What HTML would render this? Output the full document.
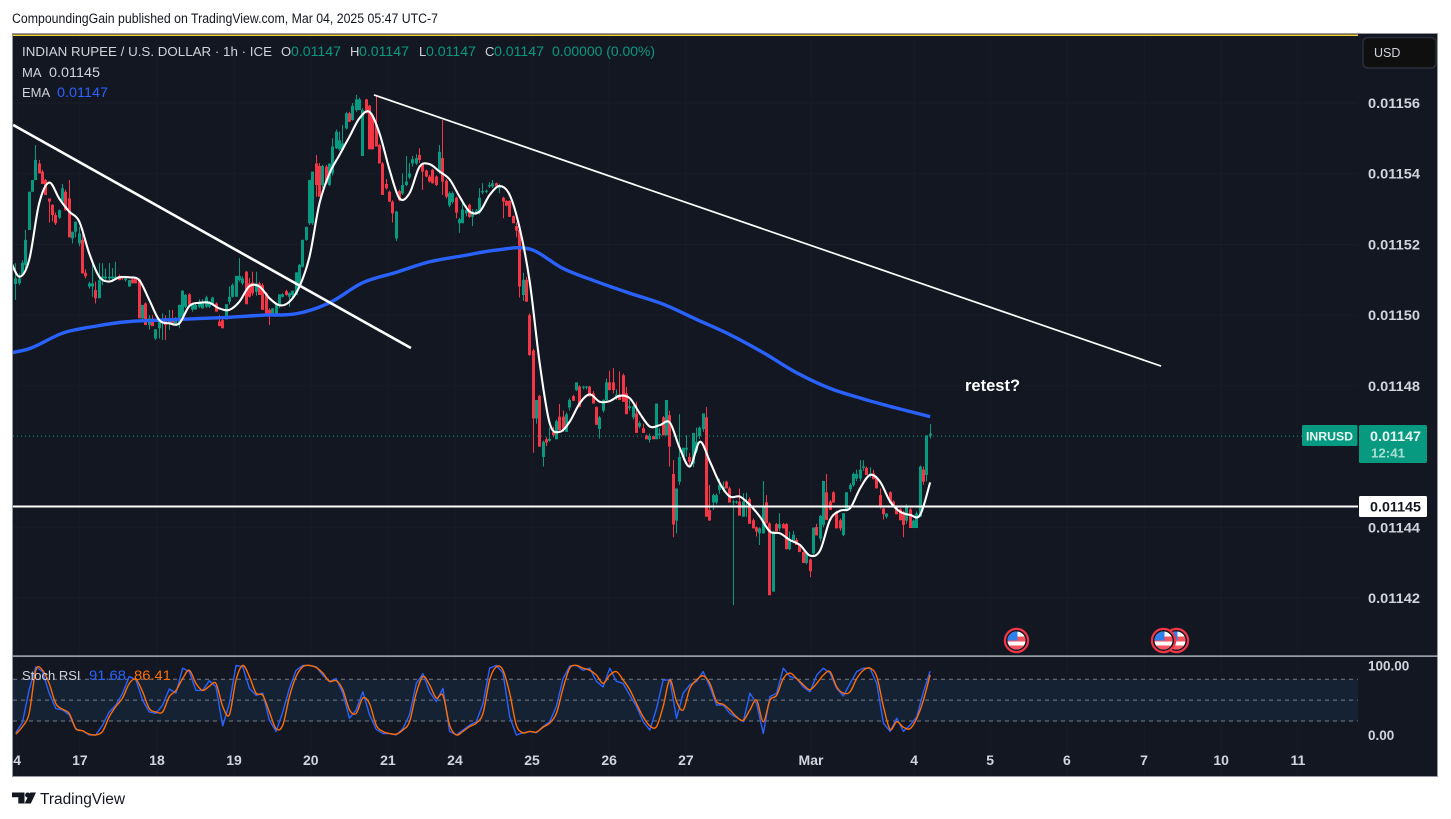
<!DOCTYPE html>
<html lang="en">
<head>
<meta charset="utf-8">
<title>INRUSD chart</title>
<style>
html,body{margin:0;padding:0;background:#fff;width:1451px;height:819px;overflow:hidden}
svg{display:block;font-family:"Liberation Sans",sans-serif}
</style>
</head>
<body>
<svg id="chart" xmlns="http://www.w3.org/2000/svg" width="1451" height="819" viewBox="0 0 1451 819">
  <defs>
    <clipPath id="main-clip"><rect x="13" y="36" width="1345" height="620"/></clipPath>
    <clipPath id="pane-clip"><rect x="13" y="657" width="1345" height="119"/></clipPath>
    <clipPath id="flag-clip"><circle cx="0" cy="0" r="9"/></clipPath>
  </defs>
  <rect x="0" y="0" width="1451" height="819" fill="#ffffff"/>
  <text x="12" y="23" font-size="13.5" fill="#131722" textLength="426" lengthAdjust="spacingAndGlyphs">CompoundingGain published on TradingView.com, Mar 04, 2025 05:47 UTC-7</text>
  <rect x="12.5" y="33.5" width="1425" height="743" fill="#131722" stroke="#9598a1" stroke-width="1"/>
  <rect x="13" y="34.5" width="1345" height="1.5" fill="#f5d63d"/>
  <g id="grid"></g>
  <g id="candles" clip-path="url(#main-clip)"></g>
  <line id="last-price-line" x1="13" x2="1302" stroke="#089981" stroke-width="1" stroke-dasharray="1 3"/>
  <path id="ema-line" clip-path="url(#main-clip)" fill="none" stroke="#2962ff" stroke-width="3.4" stroke-linejoin="round"/>
  <path id="ma-line" clip-path="url(#main-clip)" fill="none" stroke="#ffffff" stroke-width="2.1" stroke-linejoin="round"/>
  <line id="trend-a" clip-path="url(#main-clip)" stroke="#ffffff" stroke-width="2.6"/>
  <line id="trend-b" clip-path="url(#main-clip)" stroke="#ffffff" stroke-width="1.7"/>
  <line id="support-line" x1="13" x2="1358" stroke="#ffffff" stroke-width="2"/>
  <text x="965" y="391" font-size="16.5" font-weight="700" fill="#ffffff">retest?</text>

  <g transform="translate(1176.5 640.5)">
    <circle r="11.6" fill="#131722" stroke="#f23645" stroke-width="2.2"/>
    <g clip-path="url(#flag-clip)"><rect x="-9" y="-9" width="18" height="18" fill="#fff"/><rect x="-9" y="-4" width="18" height="5" fill="#f7525f"/><rect x="-9" y="5" width="18" height="4" fill="#f7525f"/><rect x="-9" y="-9" width="10" height="9" fill="#2f80ed"/></g>
  </g>
  <g transform="translate(1163.5 640.5)">
    <circle r="11.6" fill="#131722" stroke="#f23645" stroke-width="2.2"/>
    <g clip-path="url(#flag-clip)"><rect x="-9" y="-9" width="18" height="18" fill="#fff"/><rect x="-9" y="-4" width="18" height="5" fill="#f7525f"/><rect x="-9" y="5" width="18" height="4" fill="#f7525f"/><rect x="-9" y="-9" width="10" height="9" fill="#2f80ed"/></g>
  </g>
  <g transform="translate(1016.5 640.5)">
    <circle r="11.6" fill="#131722" stroke="#f23645" stroke-width="2.2"/>
    <g clip-path="url(#flag-clip)"><rect x="-9" y="-9" width="18" height="18" fill="#fff"/><rect x="-9" y="-4" width="18" height="5" fill="#f7525f"/><rect x="-9" y="5" width="18" height="4" fill="#f7525f"/><rect x="-9" y="-9" width="10" height="9" fill="#2f80ed"/></g>
  </g>

  <rect x="13" y="655.5" width="1425" height="1.2" fill="#d1d4dc"/>
  <rect x="13" y="679.3" width="1345" height="41.7" fill="#152233"/>
  <g id="stoch-guides"></g>
  <path id="stoch-k" clip-path="url(#pane-clip)" fill="none" stroke="#2962ff" stroke-width="1.4" stroke-linejoin="round"/>
  <path id="stoch-d" clip-path="url(#pane-clip)" fill="none" stroke="#ff6d00" stroke-width="1.4" stroke-linejoin="round"/>

  <g id="legend" font-size="13">
    <text x="22" y="56" fill="#d1d4dc" textLength="250" lengthAdjust="spacingAndGlyphs">INDIAN RUPEE / U.S. DOLLAR · 1h · ICE</text>
    <text x="281" y="56" fill="#d1d4dc">O</text>
    <text x="291" y="56" fill="#089981" font-size="14" textLength="50" lengthAdjust="spacingAndGlyphs">0.01147</text>
    <text x="350" y="56" fill="#d1d4dc">H</text>
    <text x="359" y="56" fill="#089981" font-size="14" textLength="50" lengthAdjust="spacingAndGlyphs">0.01147</text>
    <text x="419" y="56" fill="#d1d4dc">L</text>
    <text x="426" y="56" fill="#089981" font-size="14" textLength="50" lengthAdjust="spacingAndGlyphs">0.01147</text>
    <text x="485" y="56" fill="#d1d4dc">C</text>
    <text x="494" y="56" fill="#089981" font-size="14" textLength="50" lengthAdjust="spacingAndGlyphs">0.01147</text>
    <text x="552" y="56" fill="#089981" font-size="14" textLength="103" lengthAdjust="spacingAndGlyphs">0.00000 (0.00%)</text>
    <text x="22" y="77" fill="#d1d4dc">MA</text>
    <text x="49" y="77" fill="#d1d4dc" font-size="14" textLength="51" lengthAdjust="spacingAndGlyphs">0.01145</text>
    <text x="22" y="97" fill="#d1d4dc">EMA</text>
    <text x="57" y="97" fill="#2962ff" font-size="14" textLength="51" lengthAdjust="spacingAndGlyphs">0.01147</text>
    <text x="22" y="680" fill="#d1d4dc">Stoch RSI</text>
    <text x="89" y="680" fill="#2962ff" font-size="14" textLength="37" lengthAdjust="spacingAndGlyphs">91.68</text>
    <text x="134" y="680" fill="#ff6d00" font-size="14" textLength="37" lengthAdjust="spacingAndGlyphs">86.41</text>
  </g>

  <g id="price-axis" font-size="13.5" font-weight="700" fill="#d1d4dc"></g>
  <g id="time-axis" font-size="14" font-weight="700" fill="#d1d4dc" text-anchor="middle"></g>

  <g>
    <rect x="1363" y="37.5" width="73" height="30.5" rx="5" fill="#0f0f10" stroke="#2a2e39" stroke-width="1.5"/>
    <text x="1374" y="57" font-size="12.5" fill="#d1d4dc">USD</text>
  </g>

  <g>
    <rect x="1302" y="425" width="55.5" height="21" rx="1.5" fill="#089981"/>
    <text x="1306" y="440.5" font-size="12" font-weight="700" fill="#e8f6f2" textLength="47" lengthAdjust="spacingAndGlyphs">INRUSD</text>
  </g>
  <g>
    <rect x="1359" y="425" width="68" height="38" rx="1.5" fill="#089981"/>
    <text x="1370" y="441" font-size="13.5" font-weight="700" fill="#e8f6f2" textLength="51" lengthAdjust="spacingAndGlyphs">0.01147</text>
    <text x="1371" y="457.5" font-size="13" font-weight="700" fill="#a9dfd2" textLength="34" lengthAdjust="spacingAndGlyphs">12:41</text>
  </g>
  <g>
    <rect x="1359" y="496" width="68" height="21" rx="1.5" fill="#ffffff"/>
    <text x="1370" y="511.5" font-size="13.5" font-weight="700" fill="#131722" textLength="51" lengthAdjust="spacingAndGlyphs">0.01145</text>
  </g>

  <g>
    <path d="M12 792.5h12.5v11h-6.2v-6.2H12z" fill="#131722"/>
    <circle cx="27.6" cy="795" r="2.5" fill="#131722"/>
    <path d="M30 792.5h6l-5.2 11h-6.2z" fill="#131722"/>
    <text x="40" y="804" font-size="15.5" fill="#131722" textLength="85" lengthAdjust="spacingAndGlyphs">TradingView</text>
  </g>
</svg>
<script>
const opens=[1150.88,1150.90,1151.14,1151.42,1152.41,1153.49,1153.82,1154.29,1154.06,1153.82,
1153.30,1153.12,1152.83,1152.76,1153.21,1153.49,1153.30,1152.17,1152.36,1152.03,
1152.13,1151.2,1150.81,1150.81,1150.71,1150.48,1151.04,1151.04,1151.04,1151.04,
1151.04,1151.11,1151.09,1150.99,1150.81,1151.01,1151.04,1151.01,1149.91,1150.33,
1149.72,1149.88,1149.34,1149.63,1149.77,1149.91,1149.77,1149.91,1149.77,1149.77,
1149.96,1150.24,1150.59,1150.16,1150.16,1150.24,1150.19,1150.24,1150.24,1150.31,
1150.33,1149.82,1149.86,1149.88,1150.38,1150.52,1150.52,1150.99,1150.9,1151.23,
1150.9,1150.92,1150.66,1150.9,1150.85,1150.62,1150.15,1150.05,1150.0,1150.29,
1150.52,1150.68,1150.52,1150.57,1150.57,1150.81,1151.37,1152.13,1152.6,1152.6,
1154.29,1154.22,1153.68,1154.2,1153.68,1154.01,1154.72,1154.69,1154.67,1155.28,
1155.71,1155.52,1155.8,1155.8,1154.5,1156.1,1155.92,1155.66,1155.4,1154.81,
1154.29,1153.71,1153.49,1153.21,1152.17,1153.51,1153.44,1153.68,1153.9,1154.29,
1154.29,1154.53,1154.29,1154.09,1153.92,1154.11,1153.92,1154.06,1154.44,1153.8,
1153.1,1153.2,1153.32,1152.6,1152.6,1152.88,1153.12,1152.78,1152.9,1152.9,
1153.47,1153.49,1153.64,1153.64,1153.73,1153.59,1153.32,1153.23,1153.23,1152.8,
1152.52,1152.41,1150.57,1151.0,1150.0,1149.0,1147.08,1147.71,1145.99,1146.49,
1146.45,1146.7,1146.49,1147.13,1147.13,1146.7,1147.39,1147.71,1147.88,1147.98,
1147.95,1147.95,1147.98,1147.79,1147.4,1146.78,1147.3,1147.6,1148.1,1148.1,
1147.7,1147.75,1148.3,1147.79,1147.37,1147.11,1147.22,1146.85,1146.8,1146.6,
1146.47,1146.58,1146.49,1146.6,1147.11,1146.6,1147.17,1145.51,1144.19,1145.29,
1145.99,1146.2,1145.99,1145.8,1146.15,1146.58,1146.78,1147.11,1144.49,1144.7,
1144.7,1145.06,1145.06,1145.29,1145.1,1144.7,1144.7,1144.73,1144.3,1144.58,
1144.8,1144.2,1144.0,1143.83,1143.83,1144.71,1144.11,1142.18,1144.09,1143.97,
1144.09,1144.09,1143.38,1143.6,1143.64,1143.5,1143.3,1142.99,1143.09,1143.26,
1144.01,1143.68,1144.07,1144.99,1144.73,1144.99,1144.44,1144.2,1143.78,1144.49,
1145.08,1145.2,1145.38,1145.38,1145.68,1145.68,1145.48,1145.53,1145.38,1144.91,
1144.53,1144.3,1144.99,1144.73,1144.58,1144.51,1144.44,1144.19,1144.51,1143.98,
1143.98,1144.3,1145.63,1145.48,1146.6];
const highs=[1151.47,1151.18,1151.55,1152.41,1153.49,1153.82,1154.81,1154.39,1154.11,1153.85,
1153.30,1153.14,1152.9,1152.99,1153.71,1153.55,1153.82,1152.36,1152.65,1152.5,
1152.3,1151.3,1150.95,1151.47,1150.95,1151.47,1151.47,1151.32,1151.47,1151.33,
1151.51,1151.15,1151.1,1151.09,1151.0,1151.05,1151.06,1151.03,1150.29,1150.36,
1150.0,1150.0,1149.6,1149.86,1150.05,1150.0,1150.15,1150.15,1149.95,1150.3,
1150.71,1150.6,1150.62,1150.33,1150.33,1150.45,1150.45,1150.55,1150.4,1150.52,
1150.36,1150.0,1149.9,1150.31,1150.81,1150.9,1151.11,1151.61,1151.1,1151.25,
1151.05,1151.23,1151.23,1150.95,1150.9,1150.65,1150.2,1150.2,1150.33,1150.59,
1150.62,1150.72,1150.65,1150.7,1151.21,1151.45,1152.13,1152.5,1153.82,1154.06,
1154.53,1154.3,1154.25,1154.25,1154.29,1155.0,1155.25,1155.19,1155.38,1155.75,
1155.75,1156.0,1156.23,1156.15,1155.85,1156.12,1155.95,1155.7,1156.23,1154.85,
1154.33,1153.85,1153.52,1153.25,1152.95,1153.55,1154.01,1154.5,1154.3,1154.5,
1154.55,1154.72,1154.32,1154.12,1153.96,1154.14,1153.95,1154.81,1155.52,1153.85,
1153.5,1153.5,1153.35,1152.75,1153.21,1153.1,1153.15,1153.0,1153.0,1153.59,
1153.73,1153.55,1153.76,1153.82,1153.75,1153.72,1153.35,1153.25,1153.25,1152.82,
1152.62,1152.45,1151.2,1151.08,1150.05,1149.05,1147.6,1147.75,1146.45,1146.55,
1146.82,1146.85,1147.05,1147.49,1147.3,1147.25,1147.65,1147.75,1148.1,1148.02,
1148.0,1148.0,1148.0,1147.85,1147.42,1147.15,1147.62,1148.21,1148.43,1148.5,
1147.9,1148.41,1148.35,1147.97,1147.6,1147.45,1147.55,1147.0,1146.93,1146.62,
1146.65,1146.6,1147.5,1146.8,1147.15,1147.6,1147.3,1145.9,1145.1,1147.2,
1146.25,1146.6,1146.1,1146.67,1146.82,1146.85,1147.22,1147.4,1145.2,1144.95,
1144.95,1145.38,1145.3,1145.32,1145.15,1144.78,1144.76,1145.1,1144.96,1144.98,
1144.85,1144.25,1144.02,1144.0,1145.31,1144.91,1144.15,1143.9,1144.12,1144.4,
1144.12,1144.12,1143.88,1143.9,1143.7,1143.52,1143.32,1143.32,1143.12,1144.0,
1144.1,1144.35,1145.31,1145.51,1144.78,1145.02,1144.47,1144.25,1144.4,1145.0,
1145.25,1145.55,1145.63,1145.9,1145.9,1145.72,1145.7,1145.63,1145.4,1145.1,
1144.55,1144.4,1145.02,1144.76,1144.6,1144.54,1144.47,1144.65,1144.55,1144.22,
1144.45,1145.75,1145.72,1146.6,1146.92];
const lows=[1150.43,1150.85,1151.14,1151.23,1152.41,1153.49,1153.82,1154.01,1153.71,1153.40,
1152.62,1152.65,1152.55,1152.72,1153.2,1152.95,1152.2,1152.03,1152.2,1151.95,
1151.18,1151.04,1150.75,1150.52,1150.33,1150.48,1150.85,1150.94,1150.99,1150.94,
1151.0,1150.99,1151.0,1150.95,1150.8,1150.9,1150.9,1149.91,1149.88,1149.72,
1149.6,1149.69,1149.3,1149.34,1149.3,1149.3,1149.58,1149.7,1149.7,1149.63,
1149.96,1150.2,1150.29,1150.1,1150.15,1150.2,1150.19,1150.2,1150.2,1150.3,
1150.1,1149.69,1149.63,1149.88,1150.3,1150.5,1150.52,1150.95,1150.85,1150.31,
1150.5,1150.55,1150.55,1150.57,1150.15,1150.05,1149.72,1150.0,1150.0,1150.2,
1150.5,1150.55,1150.24,1150.5,1150.57,1150.8,1151.35,1152.1,1152.55,1152.55,
1153.35,1153.35,1153.6,1153.7,1153.65,1153.95,1154.7,1154.65,1154.65,1155.25,
1155.47,1155.5,1155.75,1155.8,1154.5,1155.71,1154.69,1154.69,1154.77,1154.29,
1153.4,1153.55,1153.2,1152.62,1152.1,1153.22,1153.4,1153.65,1153.85,1154.2,
1154.25,1154.3,1153.54,1153.9,1153.75,1153.72,1153.65,1154.0,1153.4,1153.3,
1153.05,1153.15,1152.74,1152.33,1152.6,1152.8,1152.75,1152.52,1152.85,1152.85,
1153.42,1153.45,1153.6,1153.6,1153.64,1153.45,1152.74,1153.08,1152.78,1152.6,
1152.2,1150.5,1150.4,1150.38,1148.85,1146.11,1146.93,1146.28,1145.72,1146.3,
1146.42,1146.55,1146.49,1146.75,1146.7,1146.7,1147.3,1147.57,1147.85,1147.4,
1147.9,1147.9,1147.7,1147.5,1146.9,1146.51,1147.25,1147.55,1147.88,1147.79,
1147.6,1147.6,1147.55,1147.2,1147.3,1147.05,1146.67,1146.8,1146.67,1146.49,
1146.4,1146.49,1146.49,1146.5,1146.6,1146.6,1145.72,1143.72,1143.83,1145.2,
1145.9,1146.0,1145.7,1145.7,1146.1,1146.5,1146.7,1144.3,1144.19,1144.49,
1144.65,1144.95,1145.0,1145.1,1144.7,1141.8,1144.66,1144.33,1144.3,1144.3,
1144.1,1143.97,1143.74,1143.5,1143.83,1144.11,1142.08,1142.18,1143.88,1143.9,
1143.97,1143.38,1143.35,1143.55,1143.5,1143.3,1142.99,1142.95,1142.59,1143.2,
1143.77,1143.6,1144.0,1144.21,1144.49,1144.7,1143.97,1143.9,1143.75,1144.45,
1145.0,1145.15,1145.3,1145.3,1145.6,1145.48,1145.4,1145.36,1145.1,1144.53,
1144.22,1144.25,1144.68,1144.58,1144.37,1144.2,1143.72,1144.1,1143.98,1143.98,
1143.98,1144.3,1145.2,1145.3,1146.51];
const closes=[1151.04,1151.04,1151.48,1152.13,1153.49,1153.82,1154.39,1154.01,1153.71,1153.40,
1153.21,1152.83,1152.60,1152.97,1153.59,1152.97,1152.20,1152.36,1152.64,1152.31,
1151.18,1151.1,1150.9,1150.9,1150.48,1150.99,1151.09,1151.09,1151.09,1151.09,
1151.09,1150.99,1151.04,1151.04,1150.99,1150.90,1150.9,1149.91,1150.29,1149.72,
1149.91,1149.69,1149.6,1149.86,1149.88,1149.72,1149.88,1149.77,1149.88,1150.29,
1150.69,1150.57,1150.29,1150.31,1150.29,1150.38,1150.38,1150.5,1150.38,1150.5,
1150.10,1149.69,1149.63,1150.31,1150.52,1150.85,1151.11,1151.11,1151.04,1150.31,
1150.52,1150.62,1150.9,1150.57,1150.15,1150.05,1150.0,1150.19,1150.33,1150.59,
1150.59,1150.57,1150.62,1150.69,1151.21,1151.42,1152.13,1152.50,1153.82,1154.06,
1153.68,1153.35,1154.22,1153.73,1154.29,1154.77,1155.19,1154.95,1154.86,1155.71,
1155.47,1155.92,1156.1,1156.1,1155.8,1155.71,1154.69,1154.69,1154.77,1154.29,
1153.4,1153.59,1153.21,1152.88,1152.93,1153.25,1153.68,1153.78,1154.01,1154.41,
1154.44,1154.39,1154.06,1153.92,1153.78,1153.73,1153.68,1154.62,1153.78,1153.35,
1153.45,1153.45,1152.9,1152.71,1152.99,1152.97,1152.78,1152.93,1152.96,1153.32,
1153.51,1153.52,1153.68,1153.73,1153.64,1153.68,1153.21,1153.1,1152.78,1152.6,
1152.39,1150.81,1151.0,1150.38,1148.87,1147.08,1147.6,1146.28,1146.42,1146.4,
1146.5,1146.6,1147.0,1146.75,1146.75,1147.2,1147.6,1147.58,1148.1,1147.4,
1147.98,1147.98,1147.7,1147.5,1146.9,1147.11,1147.6,1148.1,1147.88,1147.88,
1147.75,1147.6,1147.55,1147.2,1147.42,1147.42,1146.67,1146.95,1146.67,1146.49,
1146.59,1146.49,1147.5,1146.65,1146.6,1147.6,1146.28,1144.08,1145.1,1145.99,
1146.25,1146.25,1145.85,1146.67,1146.42,1146.82,1147.22,1144.3,1144.19,1144.91,
1144.91,1145.2,1145.15,1145.1,1144.7,1144.73,1144.73,1144.33,1144.73,1144.62,
1144.1,1143.97,1143.88,1143.97,1144.61,1144.11,1142.08,1143.88,1143.88,1144.09,
1143.97,1143.38,1143.64,1143.79,1143.5,1143.3,1142.99,1143.3,1142.76,1143.99,
1143.77,1144.32,1145.31,1144.21,1144.49,1144.7,1143.97,1143.97,1144.4,1144.99,
1145.2,1145.51,1145.51,1145.63,1145.72,1145.48,1145.53,1145.36,1145.1,1144.56,
1144.37,1144.39,1144.68,1144.58,1144.37,1144.2,1144.07,1144.6,1143.98,1144.19,
1144.39,1145.72,1145.29,1146.6,1146.65];

/* MA is sampled every 3 bars starting at bar -2 */
const maValues=[1151.65,1151.09,1151.56,1153.16,1153.75,1153.30,1152.93,1152.65,1151.75,1151.09,
1150.95,1151.07,1151.07,1150.99,1150.43,1149.86,1149.77,1149.77,1150.26,1150.35,
1150.35,1150.19,1150.15,1150.38,1150.82,1150.81,1150.48,1150.28,1150.38,1150.81,
1151.65,1153.16,1154.01,1154.53,1155.05,1155.57,1155.75,1155.14,1154.11,1153.30,
1153.45,1154.20,1154.27,1154.06,1153.84,1153.35,1152.93,1152.93,1153.40,1153.65,
1153.40,1152.46,1150.95,1148.64,1146.94,1146.70,1146.99,1147.51,1147.76,1147.55,
1147.57,1147.72,1147.65,1147.22,1146.85,1146.89,1146.96,1146.23,1145.72,1146.42,
1145.86,1145.24,1144.87,1144.87,1144.63,1144.30,1143.88,1143.83,1143.64,1143.50,
1143.20,1143.34,1144.21,1144.47,1144.54,1145.10,1145.48,1145.29,1144.73,1144.44,
1144.35,1144.35,1145.27];
const maStart=-2;
const maStep=3;

/* EMA is sampled every 10 bars starting at bar -6 */
const emaValues=[1148.87,1149.05,1149.49,1149.69,1149.82,1149.86,1149.90,1149.94,1150.00,1150.04,
1150.35,1150.92,1151.21,1151.51,1151.68,1151.84,1151.87,1151.32,1150.95,1150.62,
1150.31,1149.88,1149.45,1148.94,1148.37,1147.93,1147.63,1147.37,1147.13];
const emaStart=-6;
const emaStep=10;

/* Stoch RSI sampled every 2 bars */
const stochK=[3,18,65,98,91,60,38,36,29,8,
6,0,0,14,33,43,60,84,79,50,
33,31,43,66,60,96,91,64,64,78,
69,13,45,100,98,67,57,60,21,5,
33,67,93,100,100,98,86,77,81,60,
24,36,62,29,8,2,2,0,9,29,
74,88,62,48,67,5,0,7,14,19,
45,96,100,89,26,0,3,5,3,12,
19,41,81,99,100,93,96,77,69,96,
77,74,57,41,19,7,38,79,79,24,
60,72,77,91,69,43,43,31,25,19,
60,45,2,55,60,96,84,81,69,62,
86,96,89,67,56,74,91,96,96,74,
17,5,24,5,14,26,62,91.68];
const stochD=[1,12,31,93,93,74,45,37,31,9,
6,1,0,5,26,41,53,74,80,62,
38,33,33,55,64,81,93,74,64,70,
74,41,29,79,100,84,60,57,33,9,
14,55,84,98,100,97,89,77,78,65,
36,31,53,45,14,5,2,1,7,19,
60,84,72,53,57,14,0,5,12,17,
31,79,98,93,60,14,3,5,4,11,
17,31,67,96,100,96,93,86,74,86,
91,79,65,45,26,13,12,41,79,48,
36,67,79,85,74,48,44,36,26,21,
36,50,19,50,57,81,89,81,72,65,
74,86,91,69,60,62,81,93,96,84,
41,8,19,11,9,24,50,86.41];
const stochStep=2;

const priceTicks=[1156,1154,1152,1150,1148,1144,1142];
const priceTickLabels=["0.01156","0.01154","0.01152","0.01150","0.01148","0.01144","0.01142"];
const timeTickBars=[0.4,19.2,42.3,65.4,88.4,111.5,131.6,154.7,177.8,200.8,238.3,269.2,292,315,338.1,361.2,384.2];
const timeTickLabels=["4","17","18","19","20","21","24","25","26","27","Mar","4","5","6","7","10","11"];
const stochTicks=[100,0];
const stochTickLabels=["100.00","0.00"];
const stochGuides=[80,50,20];

const trendABars=[-0.8,118.4];
const trendAPrices=[1155.38,1149.07];
const trendBBars=[107.3,343.2];
const trendBPrices=[1156.23,1148.56];
const supportPrice=1144.59;
const lastPrice=1146.58;

const SVGNS='http://www.w3.org/2000/svg';
function xBar(i){return 15.8+3.337*i;}
function yPrice(p){return 103+(1156-p)*35.36;}
function yStoch(v){return 734.9-v*0.695;}
function make(tag,parent){const e=document.createElementNS(SVGNS,tag);parent.appendChild(e);return e;}
function smooth(pts){
  let d='M'+pts[0][0].toFixed(2)+' '+pts[0][1].toFixed(2);
  for(let i=0;i<pts.length-1;i++){
    const p0=pts[Math.max(0,i-1)],p1=pts[i],p2=pts[i+1],p3=pts[Math.min(pts.length-1,i+2)];
    const c1x=p1[0]+(p2[0]-p0[0])/6,c1y=p1[1]+(p2[1]-p0[1])/6;
    const c2x=p2[0]-(p3[0]-p1[0])/6,c2y=p2[1]-(p3[1]-p1[1])/6;
    d+='C'+c1x.toFixed(2)+' '+c1y.toFixed(2)+' '+c2x.toFixed(2)+' '+c2y.toFixed(2)+' '+p2[0].toFixed(2)+' '+p2[1].toFixed(2);
  }
  return d;
}
function poly(pts){return 'M'+pts.map(function(p){return p[0].toFixed(2)+' '+p[1].toFixed(2);}).join('L');}

const gridG=document.getElementById('grid');
timeTickBars.forEach(function(b){
  const l=make('line',gridG);
  
  
  l.setAttribute('x1',xBar(b));l.setAttribute('x2',xBar(b));
  l.setAttribute('y1',36);l.setAttribute('y2',776);
  l.setAttribute('stroke','#181c27');l.setAttribute('stroke-width',1);
});
priceTicks.forEach(function(p){
  const l=make('line',gridG);
  
  
  l.setAttribute('x1',13);l.setAttribute('x2',1358);
  l.setAttribute('y1',yPrice(p));l.setAttribute('y2',yPrice(p));
  l.setAttribute('stroke','#181c27');l.setAttribute('stroke-width',1);
});

const candleG=document.getElementById('candles');
opens.forEach(function(o,i){
  const c=closes[i];
  const col=c>=o?'#089981':'#f23645';
  const left=Math.round(xBar(i)-1.5);
  const wick=make('rect',candleG);
  
  
  wick.setAttribute('x',left+1);
  wick.setAttribute('y',yPrice(highs[i]).toFixed(2));
  wick.setAttribute('width',1);
  wick.setAttribute('height',Math.max(0.5,yPrice(lows[i])-yPrice(highs[i])).toFixed(2));
  wick.setAttribute('fill',col);
  const body=make('rect',candleG);
  
  
  const top=yPrice(Math.max(o,c));
  body.setAttribute('x',left);
  body.setAttribute('y',top.toFixed(2));
  body.setAttribute('width',3);
  body.setAttribute('height',Math.max(1,yPrice(Math.min(o,c))-top).toFixed(2));
  body.setAttribute('fill',col);
});

document.getElementById('ema-line').setAttribute('d',smooth(emaValues.map(function(v,k){return [xBar(emaStart+k*emaStep),yPrice(v)];})));
document.getElementById('ma-line').setAttribute('d',smooth(maValues.map(function(v,k){return [xBar(maStart+k*maStep),yPrice(v)];})));
document.getElementById('stoch-k').setAttribute('d',poly(stochK.map(function(v,k){return [xBar(k*stochStep),yStoch(v)];})));
document.getElementById('stoch-d').setAttribute('d',smooth(stochD.map(function(v,k){return [xBar(k*stochStep),yStoch(v)];})));

function setLine(id,bars,prices){
  const l=document.getElementById(id);
  l.setAttribute('x1',xBar(bars[0]));l.setAttribute('y1',yPrice(prices[0]));
  l.setAttribute('x2',xBar(bars[1]));l.setAttribute('y2',yPrice(prices[1]));
}
setLine('trend-a',trendABars,trendAPrices);
setLine('trend-b',trendBBars,trendBPrices);
const sup=document.getElementById('support-line');
sup.setAttribute('y1',yPrice(supportPrice));
sup.setAttribute('y2',yPrice(supportPrice));
const last=document.getElementById('last-price-line');
last.setAttribute('y1',yPrice(lastPrice));
last.setAttribute('y2',yPrice(lastPrice));

const guideG=document.getElementById('stoch-guides');
stochGuides.forEach(function(v){
  const l=make('line',guideG);
  
  
  l.setAttribute('x1',13);l.setAttribute('x2',1358);
  l.setAttribute('y1',yStoch(v));l.setAttribute('y2',yStoch(v));
  l.setAttribute('stroke','#787b86');l.setAttribute('stroke-width',1);l.setAttribute('stroke-dasharray','4 4');
});

const priceG=document.getElementById('price-axis');
priceTicks.forEach(function(p,i){
  const t=make('text',priceG);
  
  
  t.setAttribute('x',1368);t.setAttribute('y',yPrice(p)+5);
  t.setAttribute('textLength',52);
  t.setAttribute('lengthAdjust','spacingAndGlyphs');
  t.textContent=priceTickLabels[i];
});
stochTicks.forEach(function(v,i){
  const t=make('text',priceG);
  
  
  t.setAttribute('x',1368);t.setAttribute('y',yStoch(v)+5);
  t.textContent=stochTickLabels[i];
});
const timeG=document.getElementById('time-axis');
timeTickBars.forEach(function(b,i){
  const t=make('text',timeG);
  
  
  t.setAttribute('x',xBar(b));t.setAttribute('y',765);
  t.textContent=timeTickLabels[i];
});
</script>
</body>
</html>
